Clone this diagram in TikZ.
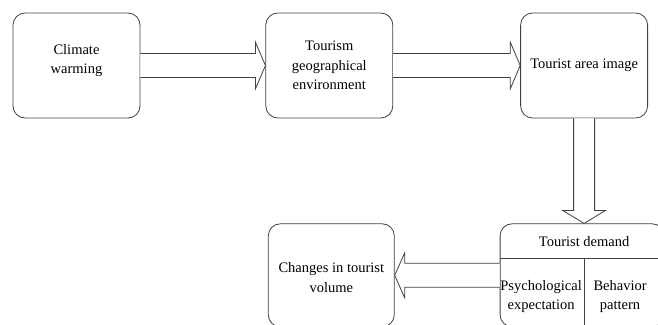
\documentclass[tikz,border=0pt]{standalone}
\usepackage{fontspec}
\setmainfont{Liberation Serif}
\usepackage{tikz}
\usetikzlibrary{positioning,calc}

\newcommand{\boxfont}{\rmfamily\fontsize{14.5}{19.5}\selectfont}

\begin{document}
\begin{tikzpicture}[
    x=1pt, y=1pt,
    node distance=126pt,
    box/.style={rectangle, draw=black!75, line width=0.8pt, rounded corners=12pt, minimum width=127pt, minimum height=105pt, align=center, font=\boxfont},
    label/.style={align=center, font=\boxfont, inner sep=0pt},
    hollow/.style={draw=black!75, line width=0.8pt, fill=white}
]
\path[use as bounding box, clip] (0,0) rectangle (658,-324);

\node[box] (climate) at (76.5,-65.5) {};
\node[label] at ($(climate.center)+(0,5)$) {Climate\\warming};
\node[box, right=125pt of climate] (geo) {Tourism\\geographical\\environment};
\node[box, right=127pt of geo] (area) {Tourist area image};
\node[box, below=105pt of area, xshift=-2pt, minimum width=164pt, minimum height=103pt] (demand) {};
\node[box, left=105pt of demand, minimum width=126pt, minimum height=103pt] (changes) {};
\node[label] at ($(changes.center)+(0,-2)$) {Changes in tourist\\volume};

% inside of the demand box
\coordinate (split) at ($(demand.north west)+(0,-35)$);
\coordinate (mid) at (area.south |- split);
\node[label] (dtitle) at ($(demand.north)+(2,-18)$) {Tourist demand};
\node[label] (psych) at ($(mid)+(-43,-38)$) {Psychological\\expectation};
\node[label] (behav) at ($(mid)+(36,-38)$) {Behavior\\pattern};
\draw[draw=black!75, line width=0.8pt] (split) -- (split -| demand.east);
\draw[draw=black!75, line width=0.8pt] (mid) -- (mid |- demand.south);

% hollow arrows
\draw[hollow] ($(climate.east)+(0,12)$) -- ($(geo.west)+(-10,12)$) -- ($(geo.west)+(-10,23.5)$) -- (geo.west)
    -- ($(geo.west)+(-10,-23.5)$) -- ($(geo.west)+(-10,-12)$) -- ($(climate.east)+(0,-12)$);
\draw[hollow] ($(geo.east)+(0,12)$) -- ($(area.west)+(-10,12)$) -- ($(area.west)+(-10,23.5)$) -- (area.west)
    -- ($(area.west)+(-10,-23.5)$) -- ($(area.west)+(-10,-12)$) -- ($(geo.east)+(0,-12)$);
\draw[hollow] ($(area.south)+(-10.5,0)$) -- ($(area.south |- demand.north)+(-10.5,13)$) -- ($(area.south |- demand.north)+(-21.5,13)$)
    -- (area.south |- demand.north) -- ($(area.south |- demand.north)+(21.5,13)$) -- ($(area.south |- demand.north)+(10.5,13)$) -- ($(area.south)+(10.5,0)$);
\draw[hollow] ($(demand.west)+(0,12)$) -- ($(changes.east)+(10,12)$) -- ($(changes.east)+(10,22.5)$) -- (changes.east)
    -- ($(changes.east)+(10,-22.5)$) -- ($(changes.east)+(10,-12)$) -- ($(demand.west)+(0,-12)$);
\end{tikzpicture}
\end{document}
